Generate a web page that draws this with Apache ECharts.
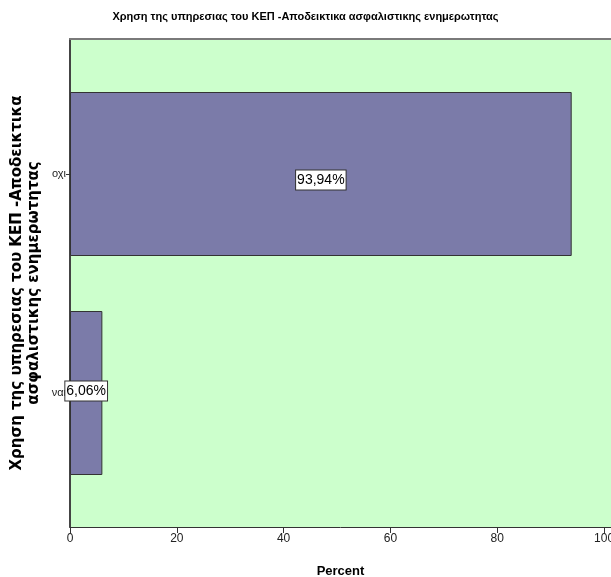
<!DOCTYPE html>
<html>
<head>
<meta charset="utf-8">
<script src="https://cdn.jsdelivr.net/npm/echarts@6/dist/echarts.min.js"></script>
<style>
  html, body { margin: 0; padding: 0; background: #ffffff; overflow: hidden; }
  #chart { width: 611px; height: 577px; }
</style>
</head>
<body>
<div id="chart"></div>
<script>
// Categories listed bottom-to-top (category y axis grows upward)
const categories = ['ναι', 'οχι'];
const percentValues = [6.06, 93.94];
const xTickValues = [0, 20, 40, 60, 80, 100];

const titleText = 'Χρηση της υπηρεσιας του ΚΕΠ -Αποδεικτικα ασφαλιστικης ενημερωτητας';
const yAxisTitle = 'Χρηση της υπηρεσιας του ΚΕΠ -Αποδεικτικα\nασφαλιστικης ενημερωτητας';
const xAxisTitle = 'Percent';

const narrow = '"Liberation Sans Narrow", "Liberation Sans", Arial, sans-serif';
const X_MAX = 101.3;

const chart = echarts.init(document.getElementById('chart'), null, { renderer: 'canvas' });

// small vertical nudges for the value boxes
const labelOffsets = { 'ναι': [0, -2], 'οχι': [0, 6] };

chart.setOption({
  backgroundColor: '#ffffff',
  animation: false,
  title: {
    text: titleText,
    left: 'center',
    top: 6,
    textStyle: { fontFamily: narrow, fontWeight: 'bold', fontSize: 11, color: '#000' }
  },
  grid: [
    // plot frame with the green background
    { left: 70, right: 0, top: 39, bottom: 50, show: true, backgroundColor: '#ccffcc', borderWidth: 0,
      containLabel: false, outerBoundsMode: 'none' },
    // inner band area holding the bars
    { left: 70, right: 0, top: 64.5, bottom: 74.5, containLabel: false, outerBoundsMode: 'none' }
  ],
  xAxis: [
    {
      gridIndex: 0, type: 'value', min: 0, max: X_MAX,
      name: xAxisTitle, nameLocation: 'middle', nameGap: 38,
      nameTextStyle: { fontFamily: 'Liberation Sans, Arial, sans-serif', fontWeight: 'bold', fontSize: 13, color: '#000' },
      axisLine: { show: true, lineStyle: { color: '#333', width: 1 } },
      axisTick: { show: true, length: 6, customValues: xTickValues, lineStyle: { color: '#333' } },
      axisLabel: { customValues: xTickValues, margin: 6, fontFamily: narrow, fontSize: 12, color: '#222' },
      splitLine: { show: false }
    },
    {
      gridIndex: 0, type: 'value', position: 'top', min: 0, max: X_MAX,
      axisLine: { show: true, lineStyle: { color: '#7a7a7a', width: 2 } },
      axisTick: { show: false }, axisLabel: { show: false }, splitLine: { show: false }
    },
    {
      gridIndex: 1, type: 'value', min: 0, max: X_MAX, show: false,
      splitLine: { show: false }
    }
  ],
  yAxis: [
    {
      gridIndex: 0, type: 'value', min: 0, max: 1,
      name: yAxisTitle, nameLocation: 'middle', nameRotate: 90, nameGap: 27,
      nameTextStyle: { fontFamily: '"DejaVu Sans", Verdana, sans-serif', fontWeight: 'bold', fontSize: 15, lineHeight: 17, color: '#000', align: 'center' },
      axisLine: { show: true, lineStyle: { color: '#444', width: 2 } },
      axisTick: { show: false }, axisLabel: { show: false }, splitLine: { show: false }
    },
    {
      gridIndex: 1, type: 'category', data: categories,
      axisLine: { show: false },
      axisTick: { show: true, alignWithLabel: true, length: 4, lineStyle: { color: '#333' } },
      axisLabel: { margin: 4, fontFamily: narrow, fontSize: 11, color: '#222' },
      splitLine: { show: false }
    }
  ],
  series: [
    {
      type: 'bar',
      xAxisIndex: 2,
      yAxisIndex: 1,
      data: percentValues.map((v, i) => ({
        value: v,
        label: { offset: labelOffsets[categories[i]] }
      })),
      barWidth: 164,
      itemStyle: { color: '#7b7ba9', borderColor: '#333', borderWidth: 1 },
      label: {
        show: true,
        position: 'inside',
        formatter: p => p.value.toFixed(2).replace('.', ',') + '%',
        fontFamily: 'Liberation Sans, Arial, sans-serif',
        fontSize: 14,
        color: '#000',
        backgroundColor: '#ffffff',
        borderColor: '#333',
        borderWidth: 1,
        padding: [3, 1, 2, 1]
      }
    }
  ]
});
</script>
</body>
</html>
